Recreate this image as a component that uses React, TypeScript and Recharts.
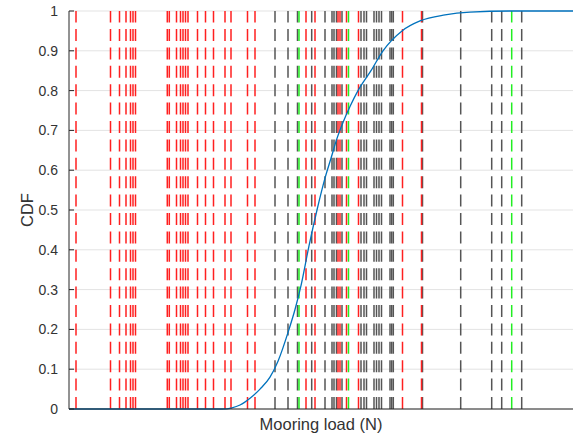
import {
  LineChart,
  Line,
  XAxis,
  YAxis,
  CartesianGrid,
  ReferenceLine,
} from "recharts";

// vertical markers, load values (arbitrary N scale, no tick labels in the figure)
const redLoads = [
  7, 41.5, 50.5, 57, 61.5, 64, 66.5, 98.3, 100.3, 107.5, 111.5, 114, 116.5, 119,
  128.5, 136.5, 144.5, 156, 162, 178.5, 186, 237, 246, 269, 271, 277.5, 289.5,
  333.5, 352.5,
];
const blackLoads = [
  206, 219, 228.5, 242.7, 256, 263, 265, 267.5, 273, 292, 295, 297.5, 305, 307.5,
  310, 312.5, 321, 322.7, 324.3, 353.5, 391.7, 422.7, 432.7, 452.7,
];
const greenLoads = [230, 279.5, 442.7];

const curveLoads = [
  0, 131, 153, 163, 171, 181, 191, 201, 209, 220, 226, 232, 240, 248, 256, 262,
  268, 274, 281, 289, 302, 314, 333, 351, 376, 401, 441, 504,
];
const curveCdf = [
  0, 0, 0, 0.003, 0.01, 0.027, 0.05, 0.08, 0.12, 0.2, 0.25, 0.31, 0.41, 0.5,
  0.58, 0.63, 0.68, 0.72, 0.76, 0.8, 0.85, 0.9, 0.95, 0.975, 0.99, 0.997, 1, 1,
];

const yTicks = [0, 0.1, 0.2, 0.3, 0.4, 0.5, 0.6, 0.7, 0.8, 0.9, 1];

const curve = curveLoads.map((load, i) => ({ load, cdf: curveCdf[i] }));

const font = "'Liberation Sans', Arial, sans-serif";
const textColor = "#333333";
const dash = "12 6.4";

export default function App() {
  const markers = (loads: number[], color: string, key: string) =>
    loads.map((x, i) => (
      <ReferenceLine
        key={key + i}
        x={x}
        stroke={color}
        strokeWidth={1.5}
        strokeDasharray={dash}
      />
    ));

  return (
    <div style={{ position: "absolute", left: 0, top: 0, fontFamily: font }}>
      <LineChart
        width={578}
        height={441}
        data={curve}
        margin={{ top: 11, right: 5, bottom: 0, left: 0 }}
      >
        <CartesianGrid vertical={false} stroke="#e3e3e3" />
        <XAxis
          dataKey="load"
          type="number"
          domain={[0, 504]}
          tick={false}
          tickLine={false}
          height={32}
          axisLine={{ stroke: "#262626" }}
          label={{
            value: "Mooring load (N)",
            position: "insideBottom",
            offset: 11,
            fill: textColor,
            fontSize: 16.5,
            fontFamily: font,
          }}
        />
        <YAxis
          type="number"
          domain={[0, 1]}
          ticks={yTicks}
          width={69}
          tickSize={-5}
          tickMargin={16}
          tickLine={{ stroke: "#262626" }}
          axisLine={{ stroke: "#262626" }}
          tick={{ fill: textColor, fontSize: 14, fontFamily: font }}
          label={{
            content: (props: any) => {
              const vb = props.viewBox || { x: 0, y: 0, width: 0, height: 0 };
              const cx = vb.x + 27;
              const cy = vb.y + vb.height / 2;
              return (
                <text
                  x={cx}
                  y={cy}
                  transform={`rotate(-90 ${cx} ${cy})`}
                  textAnchor="middle"
                  dominantBaseline="central"
                  fill={textColor}
                  fontSize={16.5}
                  fontFamily={font}
                >
                  CDF
                </text>
              );
            },
          }}
        />
        {markers(blackLoads, "#555555", "k")}
        {markers(redLoads, "#ff2020", "r")}
        {markers(greenLoads, "#22ee22", "g")}
        <Line
          dataKey="cdf"
          type="monotone"
          stroke="#0072bd"
          strokeWidth={1.3}
          dot={false}
          activeDot={false}
          isAnimationActive={false}
        />
      </LineChart>
    </div>
  );
}
